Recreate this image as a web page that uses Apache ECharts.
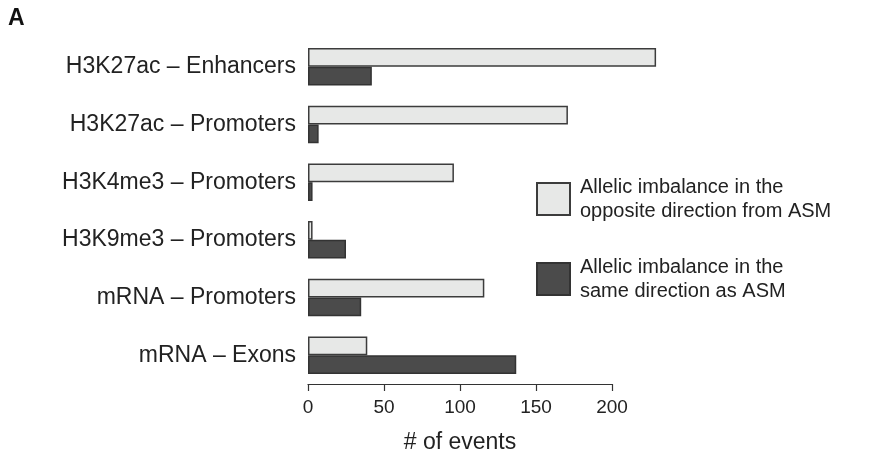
<!DOCTYPE html>
<html>
<head>
<meta charset="utf-8">
<script src="https://cdn.jsdelivr.net/npm/echarts@6/dist/echarts.min.js"></script>
<style>html,body{margin:0;padding:0;background:#fff;}#c{width:875px;height:459px;}</style>
</head>
<body>
<div id="c"></div>
<script>
var categories = ['H3K27ac – Enhancers', 'H3K27ac – Promoters', 'H3K4me3 – Promoters', 'H3K9me3 – Promoters', 'mRNA – Promoters', 'mRNA – Exons'];
var seriesNames = ['Allelic imbalance in the\nopposite direction from ASM', 'Allelic imbalance in the\nsame direction as ASM'];
var opposite = [229, 171, 96, 3, 116, 39];
var same = [42, 7, 3, 25, 35, 137];
var xTicks = [0, 50, 100, 150, 200];

var FONT = '"Liberation Sans", Arial, Helvetica, sans-serif';
var chart = echarts.init(document.getElementById('c'), null, {renderer: 'canvas'});
chart.setOption({
  animation: false,
  backgroundColor: '#fff',
  textStyle: {fontFamily: FONT},
  title: {text: 'A', left: 8, top: 7, padding: 0, textStyle: {fontSize: 23, fontWeight: 'bold', color: '#111', fontFamily: FONT}},
  grid: {left: 308, right: 263, top: 38, bottom: 71, containLabel: false},
  xAxis: {
    type: 'value', min: xTicks[0], max: xTicks[xTicks.length - 1], interval: 50,
    name: '# of events', nameLocation: 'middle', nameGap: 47,
    nameTextStyle: {fontSize: 23, color: '#222', fontFamily: FONT},
    axisLine: {show: true, lineStyle: {color: '#333', width: 1.2}},
    axisTick: {show: true, length: 7, lineStyle: {color: '#333', width: 1.2}},
    axisLabel: {fontSize: 19, color: '#222', margin: 14, fontFamily: FONT},
    splitLine: {show: false}
  },
  yAxis: {
    type: 'category', data: categories, inverse: true,
    axisLine: {show: false}, axisTick: {show: false},
    axisLabel: {fontSize: 23, color: '#222', margin: 12, padding: [4, 0, 0, 0], fontFamily: FONT}
  },
  legend: {
    orient: 'vertical', left: 536, top: 175, itemWidth: 33, itemHeight: 32, itemGap: 32,
    padding: 0, icon: 'rect',
    textStyle: {fontSize: 20, lineHeight: 24, color: '#222', padding: [0, 0, 0, 5], fontFamily: FONT},
    data: seriesNames
  },
  series: [
    {name: seriesNames[0], type: 'bar', data: opposite, clip: false, barGap: '0%', barCategoryGap: '35%',
     itemStyle: {color: '#e7e8e7', borderColor: '#3c3c3c', borderWidth: 1.5}},
    {name: seriesNames[1], type: 'bar', data: same, clip: false, barGap: '0%', barCategoryGap: '35%',
     itemStyle: {color: '#4b4b4b', borderColor: '#333', borderWidth: 1.5}}
  ]
});
</script>
</body>
</html>
